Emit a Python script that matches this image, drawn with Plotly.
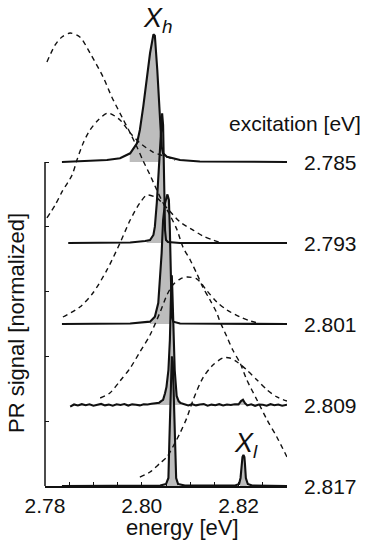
import numpy as np
import plotly.graph_objects as go

# ---------------- data ----------------
excitation = [2.785, 2.793, 2.801, 2.809, 2.817]
exc_labels = ["2.785", "2.793", "2.801", "2.809", "2.817"]
offsets = [2.5, 1.875, 1.25, 0.625, 0.0]

# PR spectra (energy in eV, normalized signal)
e_785 = [2.7835, 2.7893, 2.7928, 2.7955, 2.7976, 2.7990, 2.7996, 2.8003, 2.8010, 2.8017, 2.8024,
         2.8027, 2.8032, 2.8036, 2.8039, 2.8041, 2.8044, 2.8052, 2.8079, 2.8120, 2.8300]
s_785 = [0.0, 0.008, 0.015, 0.029, 0.067, 0.145, 0.247, 0.427, 0.633, 0.839, 0.985,
         0.975, 0.710, 0.378, 0.247, 0.118, 0.067, 0.041, 0.015, 0.004, 0.0]

e_793 = [2.7848, 2.7976, 2.8007, 2.8017, 2.8024, 2.8027, 2.8031, 2.8034, 2.8038, 2.8040, 2.8042,
         2.8044, 2.8045, 2.8046, 2.8048, 2.8050, 2.8054, 2.8079, 2.8300]
s_793 = [0.0, 0.004, 0.015, 0.023, 0.062, 0.126, 0.309, 0.486, 0.718, 0.910, 1.0,
         0.910, 0.640, 0.332, 0.100, 0.023, 0.008, 0.0, 0.0]

e_801 = [2.7835, 2.7976, 2.8017, 2.8027, 2.8034, 2.8038, 2.8041, 2.8044, 2.8048, 2.8053, 2.8056,
         2.8058, 2.8060, 2.8062, 2.8065, 2.8079, 2.8300]
s_801 = [0.0, 0.004, 0.018, 0.056, 0.162, 0.365, 0.547, 0.802, 0.934, 1.0, 0.957,
         0.725, 0.340, 0.056, 0.018, 0.004, 0.0]

e_809 = [2.7852, 2.7860, 2.7868, 2.7876, 2.7884, 2.7892, 2.7900, 2.7908, 2.7916, 2.7924,
         2.7932, 2.7940, 2.7948, 2.7956, 2.7964, 2.7972, 2.7980, 2.7988, 2.7996, 2.8004,
         2.8012, 2.8020, 2.8028, 2.8036, 2.8040, 2.8044, 2.8048, 2.8051, 2.8055, 2.8058,
         2.8060, 2.8062, 2.8063, 2.8065, 2.8068, 2.8072, 2.8076, 2.8080, 2.8088, 2.8096,
         2.8104, 2.8112, 2.8120, 2.8128, 2.8136, 2.8144, 2.8152, 2.8160, 2.8168, 2.8176,
         2.8184, 2.8192, 2.8200, 2.8205, 2.8209, 2.8213, 2.8218, 2.8226, 2.8234, 2.8242,
         2.8250, 2.8258, 2.8266, 2.8274, 2.8282, 2.8290, 2.8300]
s_809 = [-0.012, 0.004, -0.004, 0.006, -0.002, 0.005, -0.006, 0.003, 0.008, -0.003,
         0.004, -0.005, 0.006, 0.000, 0.007, -0.004, 0.005, 0.002, -0.003, 0.006,
         0.004, 0.009, 0.012, 0.018, 0.030, 0.040, 0.090, 0.140, 0.270, 0.500,
         0.800, 1.000, 0.900, 0.580, 0.270, 0.070, 0.030, 0.015, 0.005, -0.004,
         0.006, -0.003, 0.004, 0.007, -0.005, 0.003, -0.002, 0.006, -0.004, 0.004,
         0.000, 0.006, 0.005, 0.030, 0.040, 0.015, -0.003, 0.005, -0.006, 0.004,
         0.002, -0.005, 0.006, -0.002, 0.004, -0.006, 0.002]

e_817 = [2.7835, 2.8038, 2.8050, 2.8055, 2.8057, 2.8059, 2.8061, 2.8062, 2.8064, 2.8066,
         2.8068, 2.8071, 2.8075, 2.8089, 2.8193, 2.8201, 2.8204, 2.8206, 2.8208, 2.8210,
         2.8212, 2.8213, 2.8215, 2.8219, 2.8228, 2.8300]
s_817 = [0.0, 0.004, 0.015, 0.062, 0.355, 0.702, 0.957, 1.0, 0.957, 0.702,
         0.355, 0.062, 0.015, 0.004, 0.004, 0.015, 0.062, 0.177, 0.224, 0.239,
         0.224, 0.177, 0.062, 0.015, 0.004, 0.0]

spec_e = [e_785, e_793, e_801, e_809, e_817]
spec_s = [s_785, s_793, s_801, s_809, s_817]

# shaded (integrated) windows for each spectrum, eV
fill_windows = [
    [(2.7975, 2.8044)],
    [(2.8010, 2.8046)],
    [(2.8017, 2.8065)],
    [(2.8015, 2.8080), (2.8203, 2.8215)],
    [(2.8050, 2.8075), (2.8203, 2.8217)],
]

# excitation (laser) profiles, dashed; absolute vertical units
d1_e = [2.7804, 2.7821, 2.7835, 2.7852, 2.7872, 2.7893, 2.7920, 2.7938, 2.7959, 2.7976, 2.7990,
        2.8002, 2.8017, 2.8031, 2.8044, 2.8058, 2.8073, 2.8085, 2.8100, 2.8114, 2.8126, 2.8141,
        2.8155, 2.8162, 2.8176, 2.8188, 2.8203, 2.8217, 2.8238, 2.8259, 2.8279, 2.8300]
d1_v = [3.272, 3.403, 3.465, 3.495, 3.465, 3.341, 3.156, 3.002, 2.847, 2.724, 2.616,
        2.515, 2.400, 2.284, 2.184, 2.091, 1.975, 1.844, 1.744, 1.636, 1.535, 1.435,
        1.335, 1.265, 1.150, 1.049, 0.949, 0.818, 0.664, 0.509, 0.378, 0.224]
d2_e = [2.7804, 2.7821, 2.7835, 2.7856, 2.7866, 2.7879, 2.7893, 2.7910, 2.7930, 2.7955, 2.7976,
        2.7996, 2.8023, 2.8052, 2.8069]
d2_v = [2.068, 2.168, 2.269, 2.400, 2.515, 2.647, 2.747, 2.824, 2.878, 2.824, 2.724,
        2.647, 2.577, 2.539, 2.515]
d3_e = [2.7837, 2.7872, 2.7899, 2.7928, 2.7955, 2.7976, 2.7996, 2.8011, 2.8031, 2.8052, 2.8079,
        2.8106, 2.8126, 2.8147, 2.8162]
d3_v = [1.304, 1.381, 1.489, 1.667, 1.875, 2.052, 2.184, 2.245, 2.222, 2.145, 2.037,
        1.975, 1.929, 1.898, 1.880]
d4_e = [2.7914, 2.7934, 2.7955, 2.7976, 2.7996, 2.8017, 2.8038, 2.8052, 2.8064, 2.8079, 2.8093,
        2.8114, 2.8135, 2.8155, 2.8176, 2.8203, 2.8224, 2.8244]
d4_v = [0.679, 0.718, 0.810, 0.910, 1.034, 1.165, 1.343, 1.474, 1.551, 1.597, 1.613,
        1.597, 1.505, 1.420, 1.358, 1.304, 1.273, 1.255]
d5_e = [2.7996, 2.8017, 2.8038, 2.8052, 2.8064, 2.8079, 2.8093, 2.8106, 2.8126, 2.8147, 2.8168,
        2.8182, 2.8197, 2.8217, 2.8238, 2.8259, 2.8279, 2.8300]
d5_v = [0.069, 0.108, 0.177, 0.224, 0.301, 0.409, 0.525, 0.664, 0.833, 0.934, 0.988,
        0.988, 0.957, 0.895, 0.818, 0.741, 0.687, 0.656]
dashed_e = [d1_e, d2_e, d3_e, d4_e, d5_e]
dashed_v = [d1_v, d2_v, d3_v, d4_v, d5_v]

x_tickvals = [2.78, 2.80, 2.82]
x_ticktext = ["2.78", "2.80", "2.82"]
x_minor_step = 0.005
y_tickvals = [0.5, 1.0, 1.5, 2.0, 2.5]

# ---------------- figure ----------------
FONT = "Liberation Sans, Arial, Helvetica, sans-serif"
BLACK = "#111111"
GRAY = "#bdbdbd"

fig = go.Figure()

# shaded areas
for e, s, off, wins in zip(spec_e, spec_s, offsets, fill_windows):
    e = np.array(e)
    s = np.array(s)
    for a, b in wins:
        inside = (e > a) & (e < b)
        xs = [a] + list(e[inside]) + [b]
        ys = [np.interp(a, e, s)] + list(s[inside]) + [np.interp(b, e, s)]
        px_ = xs + [b, a]
        py_ = [v + off for v in ys] + [off, off]
        fig.add_trace(go.Scatter(x=px_, y=py_, mode="lines", fill="toself",
                                 fillcolor=GRAY, line=dict(width=0, color=GRAY),
                                 hoverinfo="skip", showlegend=False))

# dashed excitation profiles
for e, v in zip(dashed_e, dashed_v):
    fig.add_trace(go.Scatter(x=e, y=v, mode="lines",
                             line=dict(color=BLACK, width=1.4, dash="5px,4px", shape="spline", smoothing=0.8),
                             hoverinfo="skip", showlegend=False))

# spectra
for e, s, off in zip(spec_e, spec_s, offsets):
    fig.add_trace(go.Scatter(x=e, y=[v + off for v in s], mode="lines",
                             line=dict(color=BLACK, width=2.1),
                             hoverinfo="skip", showlegend=False))

# left axis line (only up to the top baseline)
fig.add_shape(type="line", xref="paper", yref="y", x0=0, x1=0, y0=0, y1=offsets[0],
              line=dict(color=BLACK, width=1.5))

# plot geometry in pixels (for placing texts)
L, R, T, B = 45, 287, 0, 486

def px(xp):
    return (xp - L) / (R - L)

def py(yp):
    return (B - yp) / (B - T)

ann = []
for lab, off in zip(exc_labels, offsets):
    ann.append(dict(text=lab, xref="paper", yref="y", x=px(359), y=off, xanchor="right",
                    yanchor="middle", showarrow=False, font=dict(size=21, family=FONT, color=BLACK)))
ann.append(dict(text="excitation [eV]", xref="paper", yref="paper", x=px(363), y=py(124),
                xanchor="right", yanchor="middle", showarrow=False,
                font=dict(size=21, family=FONT, color=BLACK)))
ann.append(dict(text="energy [eV]", xref="paper", yref="paper", x=px(182), y=py(527),
                xanchor="center", yanchor="middle", showarrow=False,
                font=dict(size=22, family=FONT, color=BLACK)))
ann.append(dict(text="PR signal [normalized]", xref="paper", yref="paper", x=px(17), y=py(323),
                xanchor="center", yanchor="middle", textangle=-90, showarrow=False,
                font=dict(size=22, family=FONT, color=BLACK)))
ann.append(dict(text="<i>X</i><sub><i>h</i></sub>", xref="paper", yref="paper", x=px(141), y=py(20),
                xanchor="left", yanchor="middle", showarrow=False,
                font=dict(size=27, family=FONT, color=BLACK)))
ann.append(dict(text="<i>X</i><sub><i>l</i></sub>", xref="paper", yref="paper", x=px(232), y=py(445),
                xanchor="left", yanchor="middle", showarrow=False,
                font=dict(size=27, family=FONT, color=BLACK)))

fig.update_layout(
    width=365, height=541, autosize=False,
    margin=dict(l=L, r=365 - R, t=T, b=541 - B, pad=0),
    paper_bgcolor="white", plot_bgcolor="white",
    showlegend=False,
    annotations=ann,
    xaxis=dict(range=[2.78, 2.83], showgrid=False, zeroline=False,
               showline=True, linecolor=BLACK, linewidth=1.5,
               ticks="inside", ticklen=4, tickwidth=1, tickcolor=BLACK,
               tickvals=x_tickvals, ticktext=x_ticktext,
               minor=dict(ticks="inside", ticklen=4, tickwidth=1, tickcolor=BLACK,
                          tick0=2.78, dtick=x_minor_step, showgrid=False),
               tickfont=dict(size=21, family=FONT, color=BLACK), automargin=False),
    yaxis=dict(range=[0, 3.75], showgrid=False, zeroline=False, showline=False,
               ticks="inside", ticklen=4, tickwidth=1, tickcolor=BLACK,
               tickvals=y_tickvals, showticklabels=False, automargin=False),
)

fig.write_html("out.html", config={"displayModeBar": False, "staticPlot": True},
               post_script="document.body.style.margin='0';document.body.style.padding='0';")
